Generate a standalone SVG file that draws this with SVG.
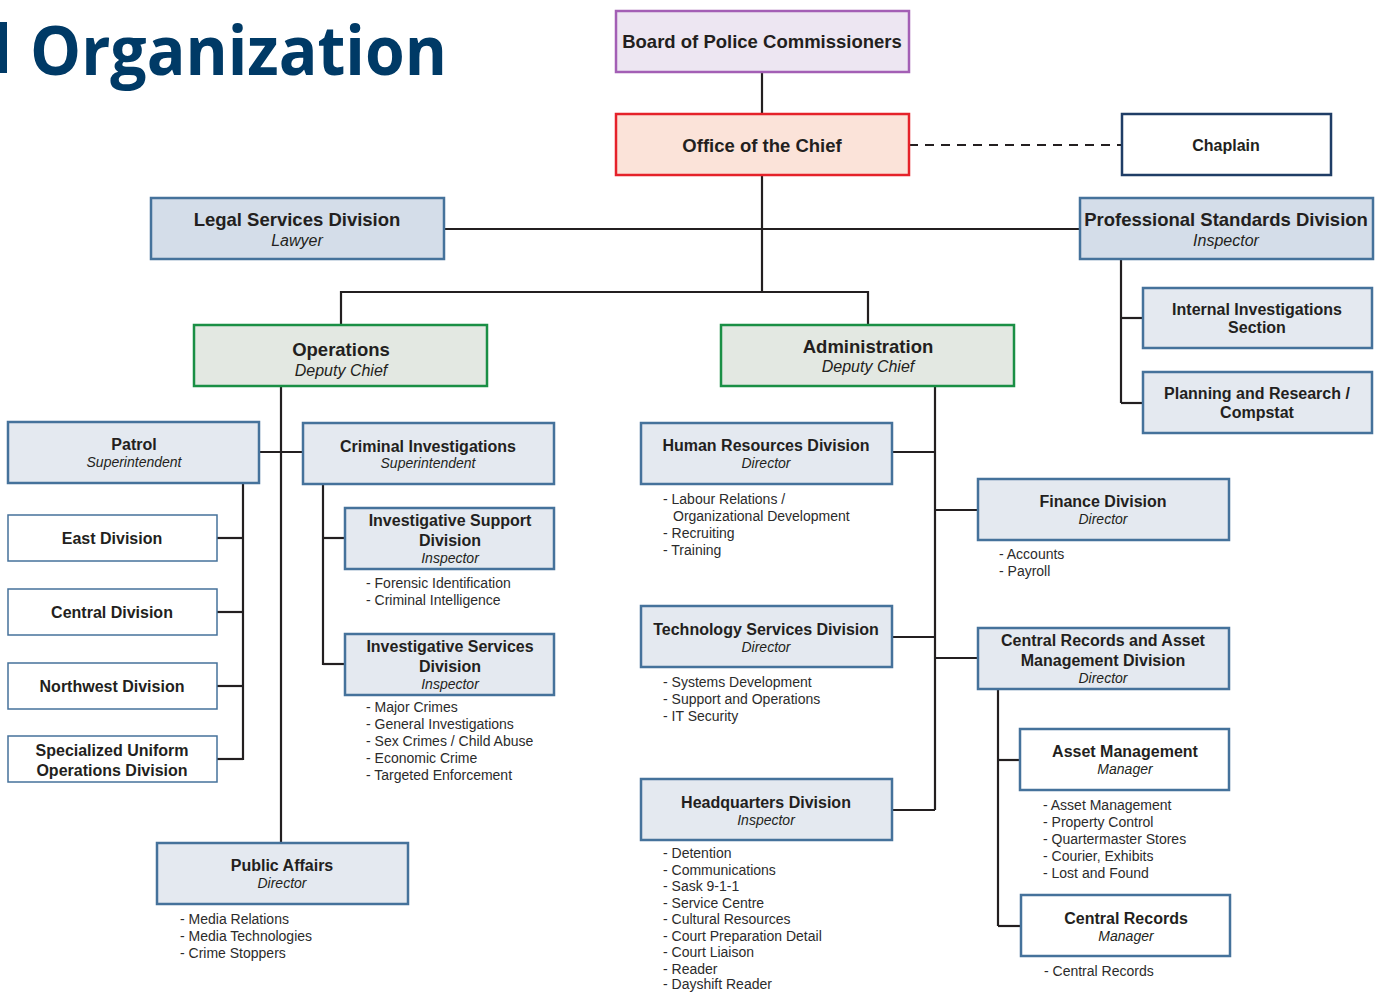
<svg xmlns="http://www.w3.org/2000/svg" width="1377" height="993" viewBox="0 0 1377 993">
<style>
text{font-family:"Liberation Sans",Arial,sans-serif;fill:#231f20}
.t1{font-size:18.5px;font-weight:bold;text-anchor:middle}
.t2{font-size:16px;font-weight:bold;text-anchor:middle}
.s1{font-size:16px;font-style:italic;text-anchor:middle}
.s2{font-size:14px;font-style:italic;text-anchor:middle}
.b{font-size:14px;fill:#2b2b2b}
.blue{fill:#e4e9f0;stroke:#45729b;stroke-width:2.5}
.blue1{fill:#d4dde9;stroke:#45729b;stroke-width:2.5}
.white{fill:#ffffff;stroke:#45729b;stroke-width:1.5}
.white2{fill:#ffffff;stroke:#45729b;stroke-width:2.5}
.green{fill:#e3e8e2;stroke:#1a8f45;stroke-width:2.5}
.con{fill:none;stroke:#231f20;stroke-width:2.2}
</style>
<rect width="1377" height="993" fill="#ffffff"/>
<g id="title">
<rect x="0" y="22" width="7" height="51" fill="#003a66"/>
<text x="30" y="75" style="font-family:'Open Sans','Liberation Sans',sans-serif;font-size:68px;font-weight:bold;fill:#003a66" textLength="417" lengthAdjust="spacingAndGlyphs">Organization</text>
</g>
<g id="connectors">
<line class="con" x1="762" y1="72" x2="762" y2="114"/>
<line class="con" x1="909" y1="145" x2="1122" y2="145" stroke-dasharray="9,7"/>
<line class="con" x1="762" y1="175" x2="762" y2="292"/>
<line class="con" x1="444" y1="229" x2="1080" y2="229"/>
<polyline class="con" points="341,325 341,292 868,292 868,325"/>
<line class="con" x1="1121" y1="260" x2="1121" y2="403"/>
<line class="con" x1="1121" y1="318" x2="1143" y2="318"/>
<line class="con" x1="1121" y1="403" x2="1143" y2="403"/>
<line class="con" x1="281" y1="386" x2="281" y2="843"/>
<line class="con" x1="259" y1="452" x2="303" y2="452"/>
<line class="con" x1="243" y1="483" x2="243" y2="760"/>
<line class="con" x1="217" y1="538" x2="243" y2="538"/>
<line class="con" x1="217" y1="612" x2="243" y2="612"/>
<line class="con" x1="217" y1="686" x2="243" y2="686"/>
<line class="con" x1="217" y1="759" x2="243" y2="759"/>
<line class="con" x1="323" y1="484" x2="323" y2="665"/>
<line class="con" x1="323" y1="538" x2="345" y2="538"/>
<line class="con" x1="323" y1="664" x2="345" y2="664"/>
<line class="con" x1="935" y1="386" x2="935" y2="810"/>
<line class="con" x1="892" y1="452" x2="935" y2="452"/>
<line class="con" x1="935" y1="510" x2="978" y2="510"/>
<line class="con" x1="892" y1="637" x2="935" y2="637"/>
<line class="con" x1="935" y1="658" x2="978" y2="658"/>
<line class="con" x1="892" y1="810" x2="935" y2="810"/>
<line class="con" x1="998" y1="689" x2="998" y2="926"/>
<line class="con" x1="998" y1="760" x2="1020" y2="760"/>
<line class="con" x1="998" y1="926" x2="1021" y2="926"/>
</g>
<g id="board">
<rect x="616" y="11" width="293" height="61" fill="#ede6f2" stroke="#a35fb5" stroke-width="2.5"/>
<text class="t1" x="762" y="48">Board of Police Commissioners</text>
</g>
<g id="chief">
<rect x="616" y="114" width="293" height="61" fill="#fbe3d9" stroke="#e5222a" stroke-width="2.5"/>
<text class="t1" x="762" y="152">Office of the Chief</text>
</g>
<g id="chaplain">
<rect x="1122" y="114" width="209" height="61" fill="#ffffff" stroke="#1f3d66" stroke-width="2.5"/>
<text class="t2" x="1226" y="151">Chaplain</text>
</g>
<g id="legal">
<rect class="blue1" x="151" y="198" width="293" height="61"/>
<text class="t1" x="297" y="226">Legal Services Division</text>
<text class="s1" x="297" y="246">Lawyer</text>
</g>
<g id="professional">
<rect class="blue1" x="1080" y="198" width="293" height="61"/>
<text class="t1" x="1226" y="226">Professional Standards Division</text>
<text class="s1" x="1226" y="246">Inspector</text>
</g>
<g id="internal">
<rect class="blue" x="1143" y="288" width="229" height="60"/>
<text class="t2" x="1257" y="315">Internal Investigations</text>
<text class="t2" x="1257" y="333">Section</text>
</g>
<g id="planning">
<rect class="blue" x="1143" y="372" width="229" height="61"/>
<text class="t2" x="1257" y="399">Planning and Research /</text>
<text class="t2" x="1257" y="418">Compstat</text>
</g>
<g id="operations">
<rect class="green" x="194" y="325" width="293" height="61"/>
<text class="t1" x="341" y="356">Operations</text>
<text class="s1" x="341" y="376">Deputy Chief</text>
</g>
<g id="administration">
<rect class="green" x="721" y="325" width="293" height="61"/>
<text class="t1" x="868" y="353">Administration</text>
<text class="s1" x="868" y="372">Deputy Chief</text>
</g>
<g id="patrol">
<rect class="blue" x="8" y="422" width="251" height="61"/>
<text class="t2" x="134" y="450">Patrol</text>
<text class="s2" x="134" y="467">Superintendent</text>
</g>
<g id="east">
<rect class="white" x="8" y="515" width="209" height="46"/>
<text class="t2" x="112" y="544">East Division</text>
</g>
<g id="central">
<rect class="white" x="8" y="589" width="209" height="46"/>
<text class="t2" x="112" y="618">Central Division</text>
</g>
<g id="northwest">
<rect class="white" x="8" y="663" width="209" height="46"/>
<text class="t2" x="112" y="692">Northwest Division</text>
</g>
<g id="specialized">
<rect class="white" x="8" y="736" width="209" height="46"/>
<text class="t2" x="112" y="756">Specialized Uniform</text>
<text class="t2" x="112" y="776">Operations Division</text>
</g>
<g id="criminal">
<rect class="blue" x="303" y="423" width="251" height="61"/>
<text class="t2" x="428" y="452">Criminal Investigations</text>
<text class="s2" x="428" y="468">Superintendent</text>
</g>
<g id="invsupport">
<rect class="blue" x="345" y="508" width="209" height="61"/>
<text class="t2" x="450" y="526">Investigative Support</text>
<text class="t2" x="450" y="546">Division</text>
<text class="s2" x="450" y="563">Inspector</text>
<text class="b" x="366" y="588">- Forensic Identification</text>
<text class="b" x="366" y="605">- Criminal Intelligence</text>
</g>
<g id="invservices">
<rect class="blue" x="345" y="634" width="209" height="61"/>
<text class="t2" x="450" y="652">Investigative Services</text>
<text class="t2" x="450" y="672">Division</text>
<text class="s2" x="450" y="689">Inspector</text>
<text class="b" x="366" y="712">- Major Crimes</text>
<text class="b" x="366" y="729">- General Investigations</text>
<text class="b" x="366" y="746">- Sex Crimes / Child Abuse</text>
<text class="b" x="366" y="763">- Economic Crime</text>
<text class="b" x="366" y="780">- Targeted Enforcement</text>
</g>
<g id="publicaffairs">
<rect class="blue" x="157" y="843" width="251" height="61"/>
<text class="t2" x="282" y="871">Public Affairs</text>
<text class="s2" x="282" y="888">Director</text>
<text class="b" x="180" y="924">- Media Relations</text>
<text class="b" x="180" y="941">- Media Technologies</text>
<text class="b" x="180" y="958">- Crime Stoppers</text>
</g>
<g id="hr">
<rect class="blue" x="641" y="423" width="251" height="61"/>
<text class="t2" x="766" y="451">Human Resources Division</text>
<text class="s2" x="766" y="468">Director</text>
<text class="b" x="663" y="504">- Labour Relations /</text>
<text class="b" x="673" y="521">Organizational Development</text>
<text class="b" x="663" y="538">- Recruiting</text>
<text class="b" x="663" y="555">- Training</text>
</g>
<g id="finance">
<rect class="blue" x="978" y="479" width="251" height="61"/>
<text class="t2" x="1103" y="507">Finance Division</text>
<text class="s2" x="1103" y="524">Director</text>
<text class="b" x="999" y="559">- Accounts</text>
<text class="b" x="999" y="576">- Payroll</text>
</g>
<g id="technology">
<rect class="blue" x="641" y="606" width="251" height="61"/>
<text class="t2" x="766" y="635">Technology Services Division</text>
<text class="s2" x="766" y="652">Director</text>
<text class="b" x="663" y="687">- Systems Development</text>
<text class="b" x="663" y="704">- Support and Operations</text>
<text class="b" x="663" y="721">- IT Security</text>
</g>
<g id="centralrecords-asset">
<rect class="blue" x="978" y="628" width="251" height="61"/>
<text class="t2" x="1103" y="646">Central Records and Asset</text>
<text class="t2" x="1103" y="666">Management Division</text>
<text class="s2" x="1103" y="683">Director</text>
</g>
<g id="headquarters">
<rect class="blue" x="641" y="779" width="251" height="61"/>
<text class="t2" x="766" y="808">Headquarters Division</text>
<text class="s2" x="766" y="825">Inspector</text>
<text class="b" x="663" y="858">- Detention</text>
<text class="b" x="663" y="874.5">- Communications</text>
<text class="b" x="663" y="891">- Sask 9-1-1</text>
<text class="b" x="663" y="907.5">- Service Centre</text>
<text class="b" x="663" y="924">- Cultural Resources</text>
<text class="b" x="663" y="940.5">- Court Preparation Detail</text>
<text class="b" x="663" y="957">- Court Liaison</text>
<text class="b" x="663" y="973.5">- Reader</text>
<text class="b" x="663" y="989">- Dayshift Reader</text>
</g>
<g id="assetmgmt">
<rect class="white2" x="1020" y="729" width="209" height="61"/>
<text class="t2" x="1125" y="757">Asset Management</text>
<text class="s2" x="1125" y="774">Manager</text>
<text class="b" x="1043" y="810">- Asset Management</text>
<text class="b" x="1043" y="827">- Property Control</text>
<text class="b" x="1043" y="844">- Quartermaster Stores</text>
<text class="b" x="1043" y="861">- Courier, Exhibits</text>
<text class="b" x="1043" y="878">- Lost and Found</text>
</g>
<g id="centralrecords">
<rect class="white2" x="1021" y="895" width="209" height="61"/>
<text class="t2" x="1126" y="924">Central Records</text>
<text class="s2" x="1126" y="941">Manager</text>
<text class="b" x="1044" y="976">- Central Records</text>
</g>
</svg>
